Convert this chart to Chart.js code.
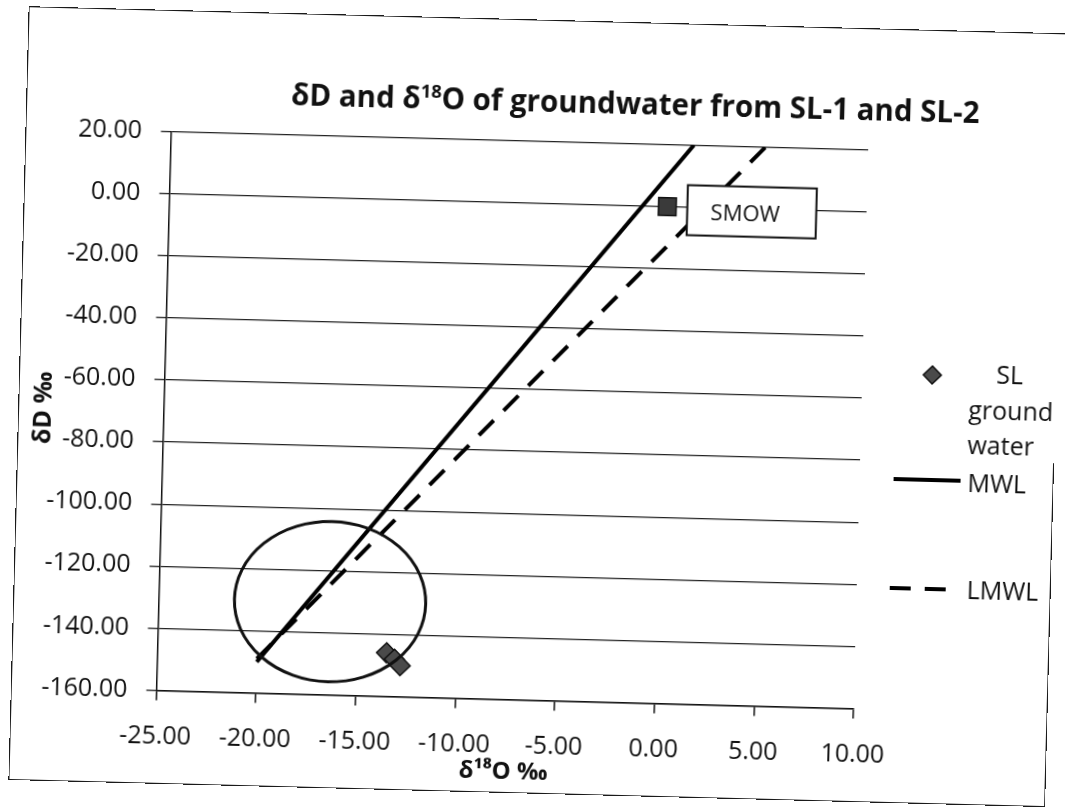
<!DOCTYPE html>
<html>
<head>
<meta charset="utf-8">
<script src="https://cdn.jsdelivr.net/npm/chart.js@4.4.1/dist/chart.umd.min.js"></script>
<style>
  html, body { margin: 0; padding: 0; background: #fff; overflow: hidden; }
  body { width: 1069px; height: 807px; position: relative; }
  /* the scan is tilted a little clockwise */
  #sheet { position: absolute; left: 18px; top: 19px; width: 1037px; height: 774px;
           transform: rotate(1.5deg); transform-origin: 494px 401px; }
  #frame { position: absolute; left: 0; top: 0; width: 1037px; height: 774px; box-sizing: border-box;
           border: 1.5px solid #1a1a1a; border-right: none; pointer-events: none; }
  #frameRight { position: absolute; right: 0; top: 430px; bottom: 0; border-right: 1.5px solid #1a1a1a; }
  #title { position: absolute; left: 609px; top: 80px; transform: translate(-50%, -50%);
           white-space: nowrap; font: bold 29.5px "Open Sans"; color: #111; }
  #title sup { font-size: 0.62em; vertical-align: 0.55em; line-height: 0; }
  canvas { position: absolute; left: 0; top: 0; }
</style>
</head>
<body>
<div id="sheet">
  <canvas id="chart" width="1037" height="774"></canvas>
  <div id="frame"></div>
  <div id="frameRight"></div>
  <div id="title">δD and δ<sup>18</sup>O of groundwater from SL-1 and SL-2</div>
</div>
<script>
'use strict';

// data
const sl18O   = [-13.5, -13.1, -12.8];
const slD     = [-146, -148, -150];
const mwl18O  = [-20, 1.25];
const mwlD    = [-150, 20];
const lmwl18O = [-20, 4.85];
const lmwlD   = [-149, 20];
const smow18O = [0];
const smowD   = [0];

// hand drawn ring around the depleted samples (centre and radii in data units)
const ringCentre = [-16.4, -130];
const ringRadius = [4.8, 25.8];

const xTickValues = [-25, -20, -15, -10, -5, 0, 5, 10];
const yTickValues = [-160, -140, -120, -100, -80, -60, -40, -20, 0, 20];

const legendNames = ['SL', 'ground', 'water', 'MWL', 'LMWL'];

const FONT = '"Open Sans"';
const INK = '#111';

function toPoints(xs, ys) {
  return xs.map((x, i) => ({ x: x, y: ys[i] }));
}

// ring, SMOW label and the legend
const extras = {
  id: 'extras',
  afterDatasetsDraw(chart) {
    const ctx = chart.ctx;
    const xs = chart.scales.x;
    const ys = chart.scales.y;

    // ring
    const cx = xs.getPixelForValue(ringCentre[0]);
    const cy = ys.getPixelForValue(ringCentre[1]);
    const rx = xs.getPixelForValue(ringCentre[0] + ringRadius[0]) - cx;
    const ry = cy - ys.getPixelForValue(ringCentre[1] + ringRadius[1]);
    ctx.save();
    ctx.beginPath();
    ctx.ellipse(cx, cy, rx, ry, 0, 0, Math.PI * 2);
    ctx.lineWidth = 3;
    ctx.strokeStyle = INK;
    ctx.stroke();
    ctx.restore();

    // SMOW label box
    const px = xs.getPixelForValue(smow18O[0]);
    const py = ys.getPixelForValue(smowD[0]);
    ctx.save();
    ctx.fillStyle = '#fff';
    ctx.strokeStyle = INK;
    ctx.lineWidth = 2;
    ctx.fillRect(px + 20, py - 22, 129, 50);
    ctx.strokeRect(px + 20, py - 22, 129, 50);
    ctx.fillStyle = INK;
    ctx.font = '22px ' + FONT;
    ctx.textAlign = 'center';
    ctx.textBaseline = 'middle';
    ctx.fillText('SMOW', px + 78, py + 6);
    ctx.restore();
  },
  afterDraw(chart) {
    const ctx = chart.ctx;
    const sets = chart.data.datasets;
    ctx.save();
    ctx.fillStyle = INK;
    ctx.font = '25px ' + FONT;
    ctx.textAlign = 'left';
    ctx.textBaseline = 'middle';

    // SL ground water marker
    ctx.fillStyle = sets[0].backgroundColor;
    ctx.strokeStyle = sets[0].borderColor;
    ctx.lineWidth = sets[0].borderWidth;
    Chart.helpers.drawPoint(ctx, { pointStyle: 'rectRot', radius: 9, rotation: 0, borderWidth: 1.5 }, 913, 345);
    ctx.fillStyle = INK;
    ctx.fillText(legendNames[0], 977, 345);
    ctx.fillText(legendNames[1], 950, 381);
    ctx.fillText(legendNames[2], 950, 416);

    // MWL
    ctx.strokeStyle = sets[1].borderColor;
    ctx.lineWidth = sets[1].borderWidth;
    ctx.beginPath();
    ctx.moveTo(877, 450);
    ctx.lineTo(944, 450);
    ctx.stroke();
    ctx.fillText(legendNames[3], 951, 454);

    // LMWL
    ctx.strokeStyle = sets[2].borderColor;
    ctx.lineWidth = sets[2].borderWidth;
    ctx.setLineDash(sets[2].borderDash);
    ctx.beginPath();
    ctx.moveTo(876, 559);
    ctx.lineTo(936, 559);
    ctx.stroke();
    ctx.setLineDash([]);
    ctx.fillText(legendNames[4], 953, 561);
    ctx.restore();
  }
};

new Chart(document.getElementById('chart'), {
  type: 'scatter',
  data: {
    datasets: [
      {
        label: 'SL ground water',
        data: toPoints(sl18O, slD),
        pointStyle: 'rectRot',
        pointRadius: 10,
        backgroundColor: '#4a4a4a',
        borderColor: '#111',
        borderWidth: 1.5,
        showLine: false
      },
      {
        label: 'MWL',
        data: toPoints(mwl18O, mwlD),
        showLine: true,
        pointRadius: 0,
        borderColor: '#000',
        borderWidth: 4
      },
      {
        label: 'LMWL',
        data: toPoints(lmwl18O, lmwlD),
        showLine: true,
        pointRadius: 0,
        borderColor: '#000',
        borderWidth: 4,
        borderDash: [21, 14]
      },
      {
        label: 'SMOW',
        data: toPoints(smow18O, smowD),
        pointStyle: 'rect',
        pointRadius: 12.5,
        backgroundColor: '#3a3a3a',
        borderColor: '#111',
        borderWidth: 1.5,
        showLine: false
      }
    ]
  },
  options: {
    responsive: false,
    animation: false,
    devicePixelRatio: 1,
    layout: { padding: { top: 121.5, right: 194, bottom: 0, left: 0 } },
    plugins: {
      legend: { display: false },
      tooltip: { enabled: false },
      title: { display: false }
    },
    scales: {
      x: {
        type: 'linear',
        position: 'bottom',
        min: -25,
        max: 10,
        afterBuildTicks: s => { s.ticks = xTickValues.map(v => ({ value: v })); },
        afterFit: s => { s.height = 93.5; },
        grid: { drawOnChartArea: false, tickLength: 10, color: INK, lineWidth: 1.5 },
        border: { color: INK, width: 1.5 },
        ticks: {
          padding: 21, color: INK, maxRotation: 0, autoSkip: false,
          font: { family: FONT, size: 25 },
          callback: v => v.toFixed(2)
        },
        title: {
          display: true, text: 'δ¹⁸O ‰', color: INK,
          font: { family: FONT, size: 24, weight: 'bold' },
          padding: { top: 0, bottom: 6 }
        }
      },
      y: {
        type: 'linear',
        min: -160,
        max: 20,
        afterBuildTicks: s => { s.ticks = yTickValues.map(v => ({ value: v })); },
        afterFit: s => { s.width = 145.5; },
        grid: { tickLength: 10, color: '#222', lineWidth: 1.3 },
        border: { color: INK, width: 1.5 },
        ticks: {
          padding: 19, color: INK, autoSkip: false,
          font: { family: FONT, size: 25 },
          callback: v => v.toFixed(2)
        },
        title: {
          display: true, text: 'δD ‰', color: INK,
          font: { family: FONT, size: 25, weight: 'bold' },
          padding: { top: 11, bottom: 0 }
        }
      }
    }
  },
  plugins: [extras]
});
</script>
</body>
</html>
